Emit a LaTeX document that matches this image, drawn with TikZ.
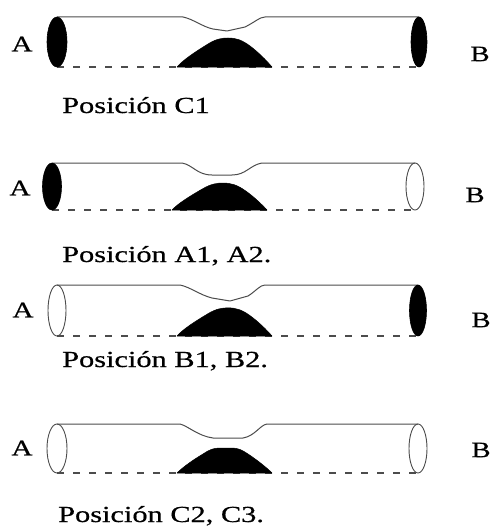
\documentclass[tikz,border=0pt]{standalone}
\usepackage{fontspec}
\setmainfont{Liberation Serif}[FakeStretch=1.32,FakeBold=0.6]
% black mound sitting on the dashed base line; #1,#2 = left foot, #3 = height factor
\newcommand\monticulo[3]{%
  \path[monte,shift={(#1,#2)},yscale=#3]
    (0,0) .. controls (6,-7) and (18,-15) .. (31,-23)
          .. controls (39,-28) and (45,-29) .. (51,-29)
          .. controls (59,-29) and (65,-27) .. (73,-21)
          .. controls (81,-15) and (89,-7) .. (95,0) -- cycle;}
\begin{document}
\begin{tikzpicture}[x=1pt,y=-1pt,
  tubo/.style={draw=black!70,line width=1pt,line join=round},
  base/.style={draw=black!70,line width=1.2pt,dash pattern=on 7pt off 9pt},
  lleno/.style={fill=black,draw=black,line width=0.6pt},
  vacio/.style={draw=black!70,line width=0.9pt},
  monte/.style={fill=black,draw=black,line width=0.5pt,line join=round},
  rotulo/.style={font=\fontsize{23}{26}\selectfont,inner sep=0pt,anchor=base west},
  extremo/.style={font=\fontsize{22}{24}\selectfont,inner sep=0pt}]
\useasboundingbox (0,0) rectangle (493,527);

% ---- tube 1: both ends closed ----
\draw[base] (57,67) -- (419,67);
\monticulo{177}{67}{1}
\draw[tubo] (57,17) -- (183,17) .. controls (193,19) and (203,27) .. (213,29)
  -- (227,31) -- (245,27) .. controls (255,22) and (260,17) .. (265,17) -- (419,17);
\draw[lleno] (57,42) ellipse [x radius=10,y radius=25];
\draw[lleno] (419,42) ellipse [x radius=8,y radius=25];
\node[extremo] (a1) at (22,44) {A};
\node[extremo] (b1) at (480,54) {B};
\node[rotulo] (t1) at (62,113) {Posición C1};

% ---- tube 2: end A closed ----
\draw[base] (52,210) -- (415,210);
\monticulo{172}{210}{0.93}
\draw[tubo] (52,163) -- (182,163) .. controls (193,165) and (197,175) .. (212,175)
  -- (232,175) .. controls (246,175) and (250,165) .. (262,163) -- (415,163);
\draw[lleno] (52,186.5) ellipse [x radius=9.5,y radius=23.5];
\draw[vacio] (415,186.5) ellipse [x radius=9,y radius=23.5];
\node[extremo] (a2) at (20,188) {A};
\node[extremo] (b2) at (475,195) {B};
\node[rotulo] (t2) at (62,262) {Posición A1, A2.};

% ---- tube 3: end B closed ----
\draw[base] (57,336) -- (418,336);
\monticulo{177}{336}{0.97}
\draw[tubo] (57,285) -- (180,285) .. controls (190,287) and (200,295) .. (212,298)
  -- (230,301) -- (248,296) .. controls (256,291) and (260,285) .. (265,285) -- (418,285);
\draw[vacio] (57,310.5) ellipse [x radius=9,y radius=25.5];
\draw[lleno] (418,310.5) ellipse [x radius=8.5,y radius=25.5];
\node[extremo] (a3) at (23,310) {A};
\node[extremo] (b3) at (481,320) {B};
\node[rotulo] (t3) at (62,367) {Posición B1, B2.};

% ---- tube 4: both ends open ----
\draw[base] (57,473) -- (418,473);
\path[monte] (177,473) .. controls (183,467) and (193,460) .. (203,454)
  .. controls (209,450) and (213,448) .. (220,448) -- (232,448)
  .. controls (238,448) and (242,450) .. (248,454)
  .. controls (257,460) and (266,467) .. (272,473) -- cycle;
\draw[tubo] (57,424) -- (180,424) .. controls (188,426) and (198,436) .. (213,438)
  -- (243,438) .. controls (255,436) and (260,425) .. (267,424) -- (418,424);
\draw[vacio] (57,448.5) ellipse [x radius=10,y radius=24.5];
\draw[vacio] (418,448.5) ellipse [x radius=9,y radius=24.5];
\node[extremo] (a4) at (22,448) {A};
\node[extremo] (b4) at (481,450) {B};
\node[rotulo] (t4) at (58,522) {Posición C2, C3.};
\end{tikzpicture}
\end{document}
